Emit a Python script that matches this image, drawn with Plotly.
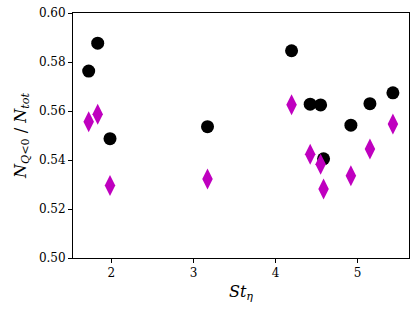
import plotly.graph_objects as go

st_eta = [1.723, 1.833, 1.983, 3.171, 4.195, 4.422, 4.549, 4.585, 4.918, 5.150, 5.430]
ratio_circle = [0.5763, 0.5877, 0.5487, 0.5536, 0.5846, 0.5628, 0.5625, 0.5405, 0.5542, 0.5630, 0.5674]
ratio_diamond = [0.5556, 0.5587, 0.5296, 0.5322, 0.5626, 0.5423, 0.5383, 0.5282, 0.5336, 0.5445, 0.5547]
y_ticks = [0.50, 0.52, 0.54, 0.56, 0.58, 0.60]
x_ticks = [2, 3, 4, 5]

font_family = "DejaVu Serif, Liberation Serif, serif"

fig = go.Figure()
fig.add_trace(go.Scatter(
    x=st_eta, y=ratio_circle, mode="markers",
    marker=dict(symbol="circle", size=13, color="black", line=dict(width=0)),
    showlegend=False))
fig.add_trace(go.Scatter(
    x=st_eta, y=ratio_diamond, mode="markers",
    marker=dict(symbol="diamond-tall", size=15, color="#bf00bf", line=dict(width=0)),
    showlegend=False))

axis_common = dict(
    showgrid=False, zeroline=False, showline=True, linecolor="black", linewidth=1,
    mirror=True, ticks="outside", ticklen=4, tickwidth=1, tickcolor="black",
    automargin=False,
    tickfont=dict(family=font_family, size=12, color="black"),
)

fig.update_layout(
    width=415, height=317,
    margin=dict(l=73, r=6, t=13, b=59),
    plot_bgcolor="white", paper_bgcolor="white",
    xaxis=dict(range=[1.532, 5.626], tickvals=x_ticks,
               ticktext=[str(v) for v in x_ticks],
               title=dict(text="<i>St</i><sub><i>η</i></sub>",
                          font=dict(family=font_family, size=16, color="black"),
                          standoff=6),
               **axis_common),
    yaxis=dict(range=[0.50, 0.60], tickvals=y_ticks,
               ticktext=[f"{v:.2f}" for v in y_ticks],
               title=dict(text="<i>N</i><sub><i>Q</i><0</sub> / <i>N</i><sub><i>tot</i></sub>",
                          font=dict(family=font_family, size=16, color="black"),
                          standoff=8),
               **axis_common),
)

fig.write_html(
    "out.html",
    config={"displayModeBar": False},
    post_script="document.body.style.margin='0';document.body.style.overflow='hidden';",
)
